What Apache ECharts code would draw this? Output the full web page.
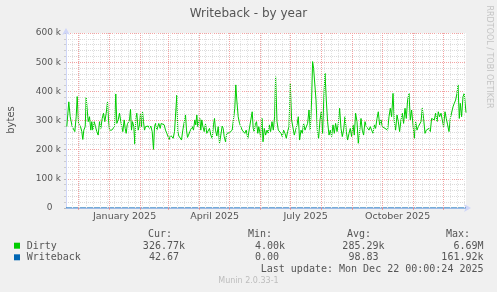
<!DOCTYPE html>
<html><head><meta charset="utf-8">
<script src="https://cdn.jsdelivr.net/npm/echarts@6/dist/echarts.min.js"></script>
<style>html,body{margin:0;padding:0;background:#f0f0f0}#c{width:497px;height:292px}</style>
</head><body><div id="c"></div>
<script>
// ---- data ----
const chartTitle = 'Writeback - by year';
const yAxisName = 'bytes';
const xLabelTexts = ['January 2025', 'April 2025', 'July 2025', 'October 2025'];
const xLabelDates = ['2025-01-16', '2025-04-16', '2025-07-16', '2025-10-16'];
const monthStarts = ['2024-12-01','2025-01-01','2025-02-01','2025-03-01','2025-04-01','2025-05-01','2025-06-01','2025-07-01','2025-08-01','2025-09-01','2025-10-01','2025-11-01','2025-12-01'];
const yTickValues = [0, 100000, 200000, 300000, 400000, 500000, 600000];

// x = days since graph start
const dirtyDays = [0.8,2.8,4.2,6.2,7.5,8.8,10.2,11.2,12.5,13.5,14.5,15.8,16.8,17.8,19.2,20.2,21.2,22.2,23.5,24.8,25.8,26.8,28.2,29.5,30.8,32.2,33.5,34.8,36.2,37.5,38.8,40.2,41.5,42.5,43.5,44.5,45.8,47.2,48.5,49.8,50.8,52.2,53.5,54.8,55.8,56.8,58.2,59.2,60.2,61.2,62.5,63.5,64.5,65.5,66.5,67.8,68.8,69.8,70.8,72.2,73.5,74.5,75.5,76.5,77.5,78.5,79.5,80.8,82.2,83.5,84.8,86.2,87.5,88.5,89.5,90.8,91.8,92.8,94.2,95.2,96.8,98.2,99.5,100.8,102.2,103.2,104.5,105.8,107.2,108.5,109.8,110.8,111.8,112.8,114.2,115.5,116.8,118.2,119.5,120.5,121.5,122.5,123.8,125.2,126.2,127.5,128.8,129.8,130.8,131.8,132.8,133.8,134.8,135.8,136.8,138.2,139.5,140.8,142.2,143.5,144.8,146.2,147.5,148.5,149.5,150.8,152.2,153.5,154.8,156.2,157.2,158.2,159.5,160.8,162.2,163.5,164.8,166.2,167.5,168.8,169.8,170.8,172.2,173.5,174.8,176.2,177.5,178.8,180.2,181.8,183.5,184.8,186.2,187.2,188.2,189.2,190.5,191.8,192.8,194.6,196,197,198.3,199.6,201,202.3,203.3,204.6,206,207.3,208.6,209.6,211,212.3,213.6,215,216.3,217.6,219,220.3,221.6,223,224.3,225.6,227,228.3,229.6,231,232.3,233.6,235,236.3,237.6,239,240.3,241.6,243,244.3,245.6,246.6,247.6,248.6,250,251.3,252.6,254,255.3,256.6,258,259,260.3,261.6,263,264.3,265.6,267,268.3,269.6,271,272.3,273.6,275,276.3,277.6,279,280.3,281.6,283,284.3,285.6,287,288.3,289.6,291,292.3,293.6,295,296.3,297.6,299,300.3,301.6,303,304.3,305.6,307,308.3,309.6,311,312.3,313.6,315,316.3,317.6,319,320.3,321.6,323,324.3,325.6,327,328.3,329.6,331,332.3,333.6,335,336.3,337.6,339,340.3,341.6,343,344.3,345.6,347,348.3,349.6,351,352.3,353.6,355,356.3,357.6,359,360.3,361.6,363,364.3,365.6,367,368.3,369.6,371,372.3,373.6,375,376.3,377.6,379,380.3,381.6,383,384.3,385.6,387,388.3,389.6,391,392,393.3,394.3,395.6,397,398.3,399.3,400];
const dirtyK = [279,364,313,279,285,262,313,382,290,285,279,262,235,267,279,379,379,296,313,267,296,267,296,279,262,250,296,273,307,325,296,325,364,302,267,262,267,273,279,391,290,302,325,296,279,262,302,273,256,285,279,302,338,267,296,279,219,307,325,267,285,325,279,330,296,267,279,285,281,273,281,262,201,279,290,267,279,290,273,290,296,285,267,256,262,235,250,256,239,262,256,387,262,247,245,233,267,262,319,267,242,250,262,267,279,267,302,285,319,279,296,307,267,302,281,262,288,256,250,273,250,239,285,307,267,247,279,222,250,281,273,245,227,256,250,258,256,267,273,342,422,370,313,290,279,267,262,256,267,239,245,302,330,273,262,285,296,256,279,245,307,227,273,250,267,256,285,262,296,267,313,450,296,267,273,256,245,267,256,239,262,279,427,302,296,250,267,285,313,233,267,256,290,267,267,290,336,267,370,502,479,485,370,267,239,302,330,256,393,462,370,296,250,267,245,285,256,290,262,290,342,273,245,267,313,262,233,256,273,245,285,250,325,296,222,262,307,267,250,296,279,285,267,279,267,256,285,273,307,330,285,302,279,285,273,279,267,313,342,313,393,296,267,319,296,262,302,325,290,342,307,370,393,302,336,342,239,296,267,279,285,296,342,307,256,267,262,273,262,307,313,302,325,296,330,313,325,302,279,330,307,285,262,307,313,347,359,370,393,422,307,359,313,382,393,353,327];
const writebackDays = [0, 40, 80, 120, 160, 200, 240, 280, 320, 360, 400];
const writebackVals = [60, 110, 40, 150, 90, 70, 130, 50, 120, 80, 43];

// legend / stats texts
const legendNames = ['Dirty', 'Writeback'];
const legendColors = ['#00cc00', '#0066b3'];
const statHeads = ['Cur:', 'Min:', 'Avg:', 'Max:'];
const statRows = [
  ['326.77k', '4.00k', '285.29k', '6.69M'],
  ['42.67 ', '0.00 ', '98.83 ', '161.92k']
];
const lastUpdate = 'Last update: Mon Dec 22 00:00:24 2025';
const footer = 'Munin 2.0.33-1';
const sideText = 'RRDTOOL / TOBI OETIKER';

// ---- helpers ----
const DAY = 86400000;
const origin = Date.UTC(2024, 10, 18) + 0.4 * DAY;
const toDay = s => (Date.parse(s + 'T00:00:00Z') - origin) / DAY;
const crisp = d => Math.floor(d) + 0.5;
const monthDays = monthStarts.map(toDay);
const labelDays = xLabelDates.map(toDay);
const weekDays = [];
for (let t = Date.UTC(2024, 10, 25); t <= Date.UTC(2025, 11, 22); t += 7 * DAY) weekDays.push((t - origin) / DAY);

const dirtyData = dirtyDays.map((d, i) => [d, dirtyK[i] * 1000]);
const wbData = writebackDays.map((d, i) => [d, writebackVals[i]]);

const MAJ = '#f3a3a3', MIN = '#d9d9d9', MINV = '#e3e3e3', AX = '#cfd6f8', FONT = '#555';
const sans = 'DejaVu Sans', mono = 'DejaVu Sans Mono';

const gridLines = [];
weekDays.forEach(d => { if (d > 0 && d < 400) gridLines.push({ xAxis: crisp(d), lineStyle: { color: MINV, type: [1, 1], width: 1 } }); });
monthDays.forEach(d => gridLines.push({ xAxis: crisp(d), lineStyle: { color: MAJ, type: [1, 1], width: 1 } }));

const graphics = [
  { type: 'text', x: 248.5, y: 13.5, style: { text: chartTitle, font: '12px "' + sans + '"', fill: FONT, textAlign: 'center', textVerticalAlign: 'middle' } },
  { type: 'text', x: 11, y: 120, rotation: Math.PI / 2, style: { text: yAxisName, font: '10px "' + sans + '"', fill: FONT, textAlign: 'center', textVerticalAlign: 'middle' } },
  { type: 'text', x: 489, y: 57, rotation: -Math.PI / 2, style: { text: sideText, font: '8px "' + sans + '"', fill: '#c4c4c4', textAlign: 'center', textVerticalAlign: 'middle' } },
  { type: 'text', x: 248.5, y: 281, style: { text: footer, font: '8px "' + sans + '"', fill: '#bdbdbd', textAlign: 'center', textVerticalAlign: 'middle' } },
  { type: 'text', x: 483.5, y: 269.5, style: { text: lastUpdate, font: '10px "' + mono + '"', fill: FONT, textAlign: 'right', textVerticalAlign: 'middle' } }
];
const headRight = [172, 272, 371, 470];
const valRight = [185, 285, 384.5, 483.5];
statHeads.forEach((h, i) => graphics.push({ type: 'text', x: headRight[i], y: 234, style: { text: h, font: '10px "' + mono + '"', fill: FONT, textAlign: 'right', textVerticalAlign: 'middle' } }));
legendNames.forEach((n, r) => {
  const yc = 246 + r * 11.6;
  graphics.push({ type: 'rect', shape: { x: 14, y: yc - 3.3, width: 6, height: 6 }, style: { fill: legendColors[r] } });
  graphics.push({ type: 'text', x: 26.7, y: yc, style: { text: n, font: '10px "' + mono + '"', fill: FONT, textAlign: 'left', textVerticalAlign: 'middle' } });
  statRows[r].forEach((v, i) => graphics.push({ type: 'text', x: valRight[i], y: yc, style: { text: v, font: '10px "' + mono + '"', fill: FONT, textAlign: 'right', textVerticalAlign: 'middle' } }));
});

const chart = echarts.init(document.getElementById('c'), null, { renderer: 'canvas' });
chart.setOption({
  backgroundColor: '#f0f0f0',
  animation: false,
  grid: { left: 66, width: 400, top: 33, height: 175, show: true, backgroundColor: '#ffffff', borderWidth: 0 },
  xAxis: {
    type: 'value', min: 0, max: 400,
    axisLine: { show: true, lineStyle: { color: AX, width: 1 }, symbol: ['none', 'arrow'], symbolSize: [6, 7], symbolOffset: [0, 5] },
    axisTick: { show: true, customValues: monthDays.map(crisp), length: 2, lineStyle: { color: MAJ } },
    axisLabel: { customValues: labelDays, margin: 4, color: FONT, fontFamily: sans, fontSize: 9.5,
      formatter: v => { const i = labelDays.findIndex(d => Math.abs(d - v) < 0.01); return i >= 0 ? xLabelTexts[i] : ''; } },
    splitLine: { show: false }
  },
  yAxis: {
    type: 'value', min: 0, max: 600000, interval: 100000,
    axisLine: { show: true, lineStyle: { color: AX, width: 1 }, symbol: ['none', 'arrow'], symbolSize: [6, 7], symbolOffset: [0, 5] },
    axisTick: { show: true, length: 2, lineStyle: { color: '#bbbbbb' } },
    minorTick: { show: true, splitNumber: 5, length: 2, lineStyle: { color: '#cccccc' } },
    axisLabel: { margin: 5, color: FONT, fontFamily: sans, fontSize: 9,
      formatter: v => { const i = yTickValues.indexOf(v); return v === 0 ? '0   ' : (yTickValues[i] / 1000) + ' k'; } },
    splitLine: { show: true, lineStyle: { color: MAJ, type: [1, 1], width: 1 } },
    minorSplitLine: { show: true, lineStyle: { color: MIN, type: [1, 1], width: 1 } }
  },
  series: [
    { type: 'line', data: [[0, 0]], z: 1, showSymbol: false, lineStyle: { opacity: 0 }, silent: true,
      markLine: { silent: true, symbol: 'none', label: { show: false }, animation: false, data: gridLines } },
    { name: 'Writeback', type: 'line', data: wbData, z: 2, showSymbol: false, lineStyle: { color: '#0066b3', width: 1 } },
    { name: 'Dirty', type: 'line', data: dirtyData, z: 3, showSymbol: false, lineStyle: { color: '#00cc00', width: 1 } }
  ],
  graphic: graphics
});
</script>
</body></html>
